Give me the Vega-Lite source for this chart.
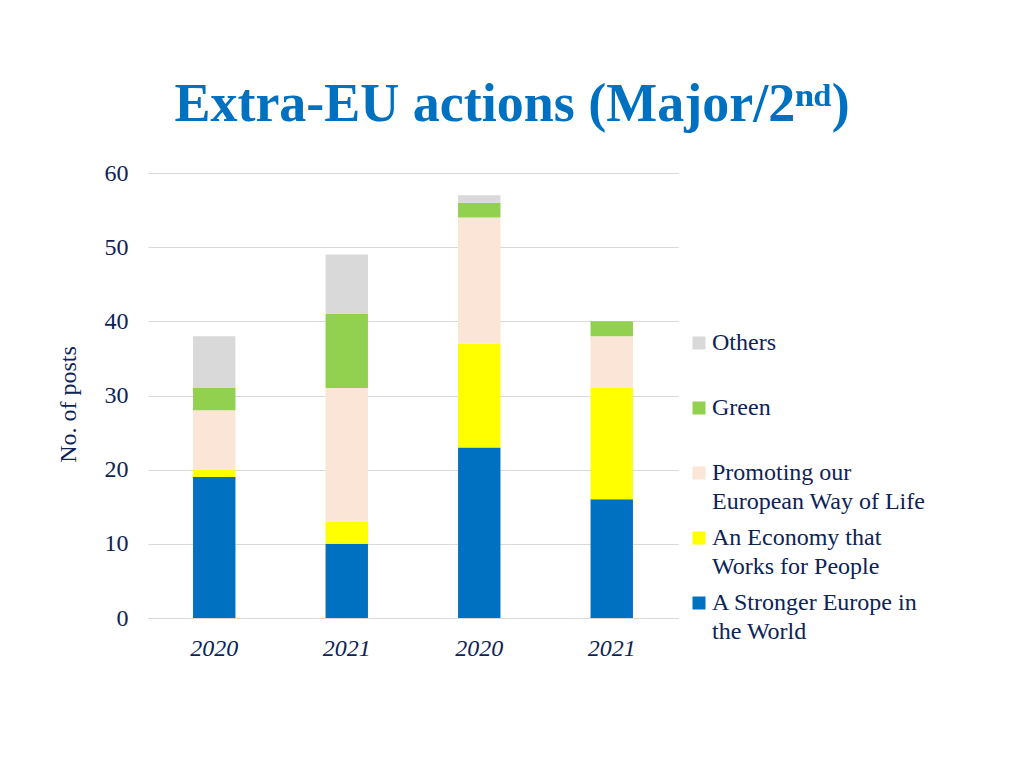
{
  "$schema": "https://vega.github.io/schema/vega-lite/v6.json",
  "autosize": "none",
  "padding": {"left": 148, "top": 173, "right": 346, "bottom": 150},
  "width": 530,
  "height": 445,
  "background": "white",
  "title": {
    "text": "Extra-EU actions (Major/2ⁿᵈ)",
    "font": "Liberation Serif",
    "fontSize": 54,
    "fontWeight": "bold",
    "color": "#0070C0",
    "anchor": "middle",
    "frame": "group",
    "dx": 99,
    "offset": 29
  },
  "data": {
    "values": [
      {"bar": "b1", "year": "2020", "cat": "A Stronger Europe in the World", "order": 1, "v": 19},
      {"bar": "b1", "year": "2020", "cat": "An Economy that Works for People", "order": 2, "v": 1},
      {"bar": "b1", "year": "2020", "cat": "Promoting our European Way of Life", "order": 3, "v": 8},
      {"bar": "b1", "year": "2020", "cat": "Green", "order": 4, "v": 3},
      {"bar": "b1", "year": "2020", "cat": "Others", "order": 5, "v": 7},
      {"bar": "b2", "year": "2021", "cat": "A Stronger Europe in the World", "order": 1, "v": 10},
      {"bar": "b2", "year": "2021", "cat": "An Economy that Works for People", "order": 2, "v": 3},
      {"bar": "b2", "year": "2021", "cat": "Promoting our European Way of Life", "order": 3, "v": 18},
      {"bar": "b2", "year": "2021", "cat": "Green", "order": 4, "v": 10},
      {"bar": "b2", "year": "2021", "cat": "Others", "order": 5, "v": 8},
      {"bar": "b3", "year": "2020", "cat": "A Stronger Europe in the World", "order": 1, "v": 23},
      {"bar": "b3", "year": "2020", "cat": "An Economy that Works for People", "order": 2, "v": 14},
      {"bar": "b3", "year": "2020", "cat": "Promoting our European Way of Life", "order": 3, "v": 17},
      {"bar": "b3", "year": "2020", "cat": "Green", "order": 4, "v": 2},
      {"bar": "b3", "year": "2020", "cat": "Others", "order": 5, "v": 1},
      {"bar": "b4", "year": "2021", "cat": "A Stronger Europe in the World", "order": 1, "v": 16},
      {"bar": "b4", "year": "2021", "cat": "An Economy that Works for People", "order": 2, "v": 15},
      {"bar": "b4", "year": "2021", "cat": "Promoting our European Way of Life", "order": 3, "v": 7},
      {"bar": "b4", "year": "2021", "cat": "Green", "order": 4, "v": 2},
      {"bar": "b4", "year": "2021", "cat": "Others", "order": 5, "v": 0}
    ]
  },
  "mark": {"type": "bar"},
  "encoding": {
    "x": {
      "field": "bar",
      "type": "nominal",
      "scale": {"paddingInner": 0.68, "paddingOuter": 0.34},
      "axis": {
        "title": null,
        "labelExpr": "datum.value == 'b1' || datum.value == 'b3' ? '2020' : '2021'",
        "labelAngle": 0,
        "labelFont": "Liberation Serif",
        "labelFontSize": 24,
        "labelFontStyle": "italic",
        "labelColor": "#0C2356",
        "labelPadding": 18,
        "ticks": false,
        "domainColor": "#D9D9D9",
        "domainWidth": 1
      }
    },
    "y": {
      "field": "v",
      "type": "quantitative",
      "stack": "zero",
      "scale": {"domain": [0, 60]},
      "axis": {
        "title": "No. of posts",
        "titleFont": "Liberation Serif",
        "titleFontSize": 24,
        "titleFontWeight": "normal",
        "titleColor": "#0C2356",
        "titlePadding": 24,
        "titleY": 231,
        "values": [0, 10, 20, 30, 40, 50, 60],
        "labelFont": "Liberation Serif",
        "labelFontSize": 24,
        "labelColor": "#0C2356",
        "labelPadding": 20,
        "ticks": false,
        "domain": false,
        "gridColor": "#D9D9D9",
        "gridWidth": 1
      }
    },
    "color": {
      "field": "cat",
      "type": "nominal",
      "scale": {
        "domain": ["Others", "Green", "Promoting our European Way of Life", "An Economy that Works for People", "A Stronger Europe in the World"],
        "range": ["#D9D9D9", "#92D050", "#FBE5D6", "#FFFF00", "#0070C0"]
      },
      "legend": {
        "title": null,
        "orient": "none",
        "legendX": 539,
        "legendY": 158,
        "symbolType": "square",
        "symbolSize": 169,
        "symbolStrokeWidth": 0,
        "labelFont": "Liberation Serif",
        "labelFontSize": 24,
        "labelColor": "#0C2356",
        "labelLimit": 400,
        "labelOffset": 1,
        "rowPadding": 12,
        "encode": {"labels": {"update": {"lineHeight": {"value": 29}}}},
        "labelExpr": "datum.value == 'Promoting our European Way of Life' ? ['Promoting our', 'European Way of Life'] : datum.value == 'An Economy that Works for People' ? ['An Economy that', 'Works for People'] : datum.value == 'A Stronger Europe in the World' ? ['A Stronger Europe in', 'the World'] : [datum.value, ' ']"
      }
    },
    "order": {"field": "order", "type": "quantitative"}
  },
  "config": {
    "view": {"stroke": null},
    "font": "Liberation Serif"
  }
}
